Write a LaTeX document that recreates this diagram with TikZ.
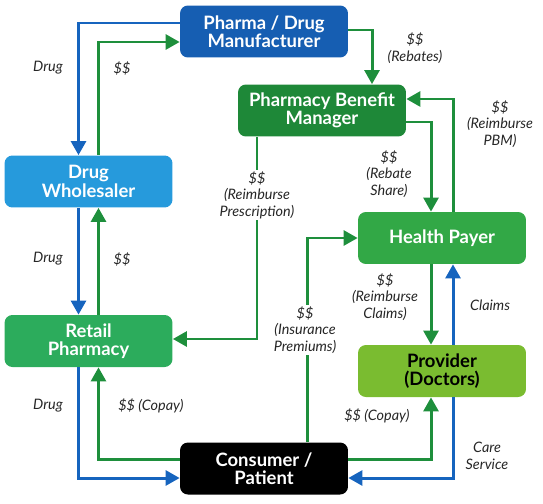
\documentclass[tikz,border=0pt]{standalone}
\usepackage{fontspec}
\setmainfont{Lato}
\definecolor{PharmaBlue} {RGB}{22,94,178}
\definecolor{WholeBlue}  {RGB}{38,154,220}
\definecolor{PBMGreen}   {RGB}{30,136,56}
\definecolor{PayerGreen} {RGB}{50,168,70}
\definecolor{RetailGreen}{RGB}{44,172,92}
\definecolor{DocGreen}   {RGB}{122,188,48}
\definecolor{FlowGreen}  {RGB}{30,143,60}
\definecolor{FlowBlue}   {RGB}{22,100,190}
\usetikzlibrary{arrows.meta,calc}

\begin{document}
\begin{tikzpicture}[x=0.02cm,y=-0.02cm,
  box/.style={rounded corners=4.5pt,minimum width=3.36cm,minimum height=1.04cm,
              align=center,font=\fontsize{10.5}{10.4}\selectfont\bfseries,text=white},
  flow/.style={line width=1.7pt,-{Triangle[length=8pt,width=8.5pt]}},
  money/.style={flow,FlowGreen},
  goods/.style={flow,FlowBlue},
  lbl/.style={font=\fontsize{8.2}{9.4}\selectfont\itshape,align=center,text=black!85}]
  \useasboundingbox (0,0) rectangle (543,503);
  % Boxes
  \node[box,fill=PharmaBlue]  (pharma)   at (264,31.5) {Pharma / Drug\\Manufacturer};
  \node[box,fill=PBMGreen]    (pbm)      at (322,110.5) {Pharmacy Benefit\\Manager};
  \node[box,fill=WholeBlue]   (whole)    at (88.5,181.5) {Drug\\Wholesaler};
  \node[box,fill=PayerGreen]  (payer)    at (442,238) {Health Payer};
  \node[box,fill=RetailGreen] (retail)   at (88.5,341) {Retail\\Pharmacy};
  \node[box,fill=DocGreen,text=black] (doctor) at (442,371) {Provider\\(Doctors)};
  \node[box,fill=black]       (consumer) at (264,468.5) {Consumer /\\Patient};
  % Manufacturer and wholesaler
  \draw[goods] ($(pharma.west)+(0,-8.5)$) -| ($(whole.north)+(-10,0)$);
  \draw[money] ($(whole.north)+(10,0)$) |- ($(pharma.west)+(0,10.5)$);
  % Wholesaler and pharmacy
  \draw[goods] ($(whole.south)+(-10,0)$) -- ($(retail.north)+(-10,0)$);
  \draw[money] ($(retail.north)+(10,0)$) -- ($(whole.south)+(10,0)$);
  % Pharmacy and patient
  \draw[goods] ($(retail.south)+(-10,0)$) |- ($(consumer.west)+(0,9.5)$);
  \draw[money] ($(consumer.west)+(0,-9.5)$) -| ($(retail.south)+(10,0)$);
  % PBM flows
  \draw[money] ($(pharma.east)+(0,-1.5)$) -| ($(pbm.north)+(50,0)$);
  \draw[money] ($(pbm.south)+(-65,0)$) |- ($(retail.east)+(0,-2)$);
  \draw[money] ($(pbm.east)+(0,11.5)$) -| ($(payer.north)+(-11,0)$);
  \draw[money] ($(payer.north)+(11,0)$) |- ($(pbm.east)+(0,-11.5)$);
  % Payer and provider
  \draw[money] ($(payer.south)+(-11,0)$) -- ($(doctor.north)+(-11,0)$);
  \draw[goods] ($(doctor.north)+(11,0)$) -- ($(payer.south)+(11,0)$);
  % Patient and provider / payer
  \draw[money] ($(consumer.east)+(0,-9.5)$) -| ($(doctor.south)+(-11,0)$);
  \draw[goods] ($(doctor.south)+(11,0)$) |- ($(consumer.east)+(0,9.5)$);
  \draw[money] ($(consumer.north)+(43,0)$) |- (payer.west);
  % Labels
  \node[lbl] (lDrugTop)  at (48,68)   {Drug};
  \node[lbl] (lPayWhole) at (122,68)  {\$\$};
  \node[lbl] (lDrugMid)  at (48,259)  {Drug};
  \node[lbl] (lPayRet)   at (122,259) {\$\$};
  \node[lbl] (lDrugLow)  at (48,406)  {Drug};
  \node[lbl] (lCopayRet) at (151,406) {\$\$ (Copay)};
  \node[lbl] (lRebates)  at (415,48)  {\$\$\\(Rebates)};
  \node[lbl,fill=white,inner sep=1pt] (lRxPay) at (257,195)
       {\$\$\\(Reimburse\\Prescription)};
  \node[lbl] (lShare)    at (389,174) {\$\$\\(Rebate\\Share)};
  \node[lbl] (lPBMPay)   at (500,124) {\$\$\\(Reimburse\\PBM)};
  \node[lbl,fill=white,inner sep=1pt] (lPremium) at (305,330)
       {\$\$\\(Insurance\\Premiums)};
  \node[lbl] (lClaimPay) at (385,297) {\$\$\\(Reimburse\\Claims)};
  \node[lbl] (lClaims)   at (490,305) {Claims};
  \node[lbl] (lCopayDoc) at (377,416) {\$\$ (Copay)};
  \node[lbl] (lCare)     at (487,456) {Care\\Service};
\end{tikzpicture}
\end{document}
